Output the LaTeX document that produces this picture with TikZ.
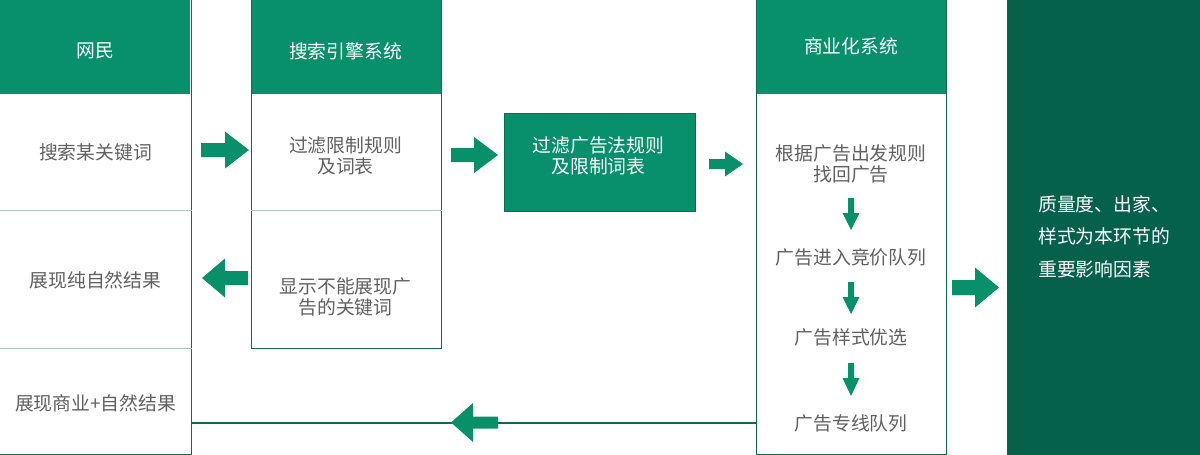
\documentclass[tikz,border=0pt]{standalone}
\usepackage{fontspec}
\setmainfont{Noto Sans CJK SC}
\usetikzlibrary{calc}
\definecolor{hdr}{HTML}{08906A}
\definecolor{panel}{HTML}{05614A}
\definecolor{bord}{HTML}{0E6B4D}
\definecolor{sepc}{HTML}{A9CEC0}
\definecolor{txtg}{HTML}{606060}
\newcommand\hbarrow[6]{\fill[hdr] (#1,#4-#5) -- (#2,#4-#5) -- (#2,#4-#6) -- (#3,#4) -- (#2,#4+#6) -- (#2,#4+#5) -- (#1,#4+#5) -- cycle;}
\newcommand\vbarrow[6]{\fill[hdr] (#4-#5,#1) -- (#4-#5,#2) -- (#4-#6,#2) -- (#4,#3) -- (#4+#6,#2) -- (#4+#5,#2) -- (#4+#5,#1) -- cycle;}
\tikzset{
  border/.style={draw=bord, line width=1.1pt},
  sepline/.style={draw=sepc, line width=1pt},
  hdrbox/.style={fill=hdr, draw=none, inner sep=0pt, anchor=north west},
  colbox/.style={draw=bord, line width=1.1pt, inner sep=0pt, anchor=north west},
  hdrtxt/.style={text=white, font=\fontsize{18.8}{21.5}\selectfont, align=center, inner sep=0pt},
  celltxt/.style={text=txtg, font=\fontsize{18.8}{21.5}\selectfont, align=center, inner sep=0pt},
  paneltxt/.style={text=white, font=\fontsize{18.8}{32.5}\selectfont, align=left, inner sep=0pt, anchor=north west},
}
\begin{document}
\begin{tikzpicture}[x=1pt,y=-1pt]
\useasboundingbox (0,0) rectangle (1200,455);
% headers
\node[hdrbox, minimum width=191pt, minimum height=104pt] (hA) at (-1,-10) {};
\node[hdrbox, minimum width=191pt, minimum height=104pt] (hB) at (250.5,-10) {};
\node[hdrbox, minimum width=191pt, minimum height=104pt] (hC) at (755.5,-10) {};
% column outlines
\node[colbox, minimum width=192pt, minimum height=464pt] (colA) at (-1.5,-10) {};
\node[colbox, minimum width=190.5pt, minimum height=358pt] (colB) at (250.5,-10) {};
\node[colbox, minimum width=190.5pt, minimum height=464pt] (colC) at (755.5,-10) {};
% separators
\draw[sepline] (0,210.5) -- (colA.east |- 0,210.5);
\draw[sepline] (0,348.5) -- (colA.east |- 0,348.5);
\draw[sepline] (colB.west |- 0,210.5) -- (colB.east |- 0,210.5);
% middle box
\node[fill=hdr, draw=bord, line width=1.1pt, minimum width=191pt, minimum height=98pt, inner sep=0pt, anchor=north west] (M) at (503.5,112.5) {};
% right panel
\node[fill=panel, inner sep=0pt, minimum width=194pt, minimum height=457pt, anchor=north west] (D) at (1007,-1) {};
% header texts
\node[hdrtxt] (tA) at (95,51) {网民};
\node[hdrtxt] (tB) at (345.5,51) {搜索引擎系统};
\node[hdrtxt] (tC) at (851,46) {商业化系统};
% column A cells
\node[celltxt] (a1) at (95.5,152) {搜索某关键词};
\node[celltxt] (a2) at (95.5,280) {展现纯自然结果};
\node[celltxt] (a3) at (95.5,403) {展现商业+自然结果};
% column B cells
\node[celltxt] (b1) at (345.5,156) {过滤限制规则\\及词表};
\node[celltxt] (b2) at (345.5,297) {显示不能展现广\\告的关键词};
% middle text
\node[hdrtxt] (m1) at (598.5,156) {过滤广告法规则\\及限制词表};
% column C cells
\node[celltxt] (c1) at (851,164) {根据广告出发规则\\找回广告};
\node[celltxt] (c2) at (851,257) {广告进入竞价队列};
\node[celltxt] (c3) at (851,337) {广告样式优选};
\node[celltxt] (c4) at (851,423) {广告专线队列};
% panel text
\node[paneltxt] (d1) at (1038,195) {质量度、出家、\\样式为本环节的\\重要影响因素};
% return line
\coordinate (lnR) at (colC.west |- 0,423);
\coordinate (lnL) at (colA.east |- 0,423);
\draw[border] (lnR) -- (lnL);
% block arrows
\hbarrow{201}{225}{249}{150}{7}{18.5}
\hbarrow{451}{474}{498}{155}{7}{18}
\hbarrow{709}{725}{743}{164}{5}{12.5}
\hbarrow{952}{975}{999}{287.5}{7.5}{20}
\hbarrow{248}{225}{202}{278}{7}{19.5}
\hbarrow{498}{473}{451}{422.5}{6}{19.5}
\vbarrow{198}{213}{230}{851}{3}{8.5}
\vbarrow{282}{297}{314}{851}{3}{8.5}
\vbarrow{363}{378}{396}{851}{3}{8.5}
\end{tikzpicture}
\end{document}
